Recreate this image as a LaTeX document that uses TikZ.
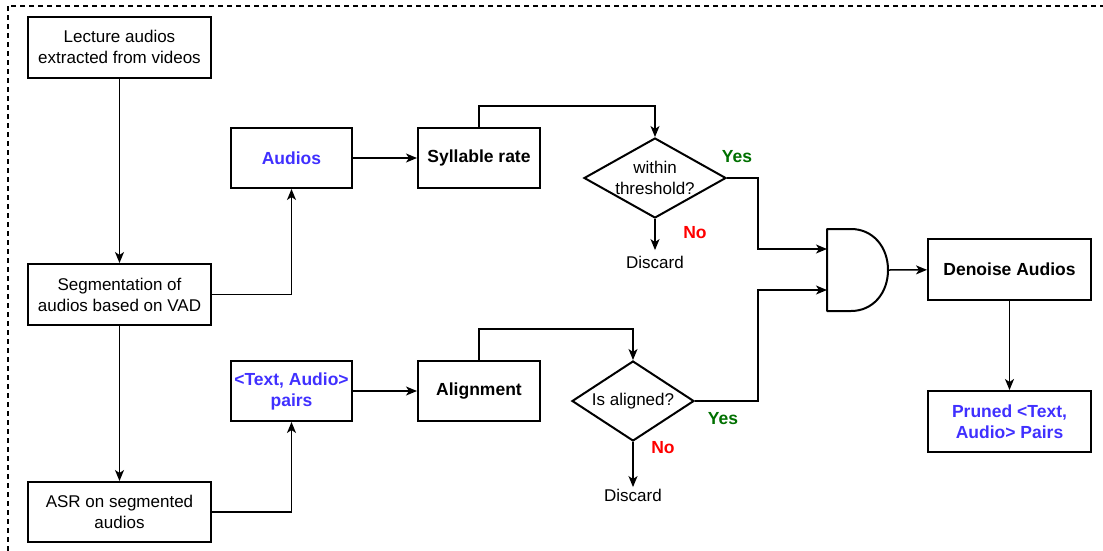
\documentclass[tikz,border=0pt]{standalone}
\usepackage{fontspec}
\setmainfont{Liberation Sans}
\usetikzlibrary{arrows.meta,shapes.geometric}

\definecolor{inkblue}{RGB}{64,48,255}
\definecolor{yesgreen}{RGB}{0,112,0}
\definecolor{nored}{RGB}{255,0,0}

\tikzset{
  txt/.style={font=\fontsize{17}{21}\selectfont, align=center},
  box/.style={txt, draw, line width=2pt, inner sep=0pt,
              minimum width=183pt, minimum height=61pt},
  midbox/.style={box, minimum width=121pt, minimum height=60pt},
  widebox/.style={box, minimum width=163pt, minimum height=61pt},
  blue text/.style={text=inkblue, font=\fontsize{17.5}{21}\selectfont\bfseries},
  bold text/.style={font=\fontsize{17.5}{21}\selectfont\bfseries},
  decision/.style={txt, draw, diamond, line width=2pt, aspect=1.775,
                   inner xsep=-2pt, inner ysep=0pt},
  outcome/.style={txt, inner sep=2pt},
  yes/.style={font=\fontsize{17.5}{20}\selectfont\bfseries, text=yesgreen},
  no/.style={font=\fontsize{17.5}{20}\selectfont\bfseries, text=nored},
  conn/.style={line width=1.5pt, -{Stealth[length=11pt,width=9pt,inset=3pt]}},
  gate/.style={line width=2pt, line join=round},
}

\begin{document}
\begin{tikzpicture}[x=1pt, y=-1pt]
  \useasboundingbox (0,0) rectangle (1103,550);

  % dashed frame, running off the right and bottom edges
  \begin{scope}
    \clip (0,0) rectangle (1103,550);
    \draw[line width=1.3pt, dash pattern=on 5pt off 4pt] (8,6) rectangle (1130,580);
  \end{scope}

  % left column
  \node[box] (lect) at (119.5,47) {Lecture audios\\extracted from videos};
  \node[box] (seg)  at (119.5,294.5) {Segmentation of\\audios based on VAD};
  \node[box, minimum height=60pt] (asr) at (119.5,512) {ASR on segmented\\audios};

  % middle boxes
  \node[midbox, blue text] (aud)   at (291.5,158) {Audios};
  \node[midbox, blue text] (pairs) at (291.5,391) {<Text, Audio>\\pairs};
  \node[midbox, bold text, minimum width=122pt] (syl)   at (479,158) {Syllable rate};
  \node[midbox, bold text, minimum width=122pt] (align) at (479,391) {Alignment};

  % decisions
  \node[decision, minimum width=142pt, minimum height=80pt] (d1) at (655,178) {within\\threshold?};
  \node[decision, minimum width=122pt, minimum height=80pt] (d2) at (633,401) {Is aligned?};
  \node[outcome] (disc1) at (655,262.5) {Discard};
  \node[outcome] (disc2) at (633,495.5) {Discard};

  % AND gate
  \draw[gate] (827,229) -- (851,229)
     .. controls (873,229) and (888,247) .. (888,270)
     .. controls (888,293) and (873,311) .. (851,311)
     -- (827,311) -- cycle;
  \coordinate (gin1) at (827,249);
  \coordinate (gin2) at (827,290);
  \coordinate (gout) at (888,270);

  % right column
  \node[widebox, bold text] (den) at (1009.5,269.5) {Denoise Audios};
  \node[widebox, blue text] (pruned) at (1009.5,421.5) {Pruned <Text,\\Audio> Pairs};

  % branch labels
  \node[yes] at (737,157) {Yes};
  \node[no]  at (695,233) {No};
  \node[yes] at (723,419) {Yes};
  \node[no]  at (663,448) {No};

  % connectors
  \draw[conn] (lect) -- (seg);
  \draw[conn] (seg) -- (asr);
  \draw[conn] (seg.east) -| (aud.south);
  \draw[conn] (asr.east) -| (pairs.south);
  \draw[conn] (aud) -- (syl);
  \draw[conn] (pairs) -- (align);
  \draw[conn] (syl.north) -- ++(0,-21) -| (d1.north);
  \draw[conn] (align.north) -- ++(0,-31) -| (d2.north);
  \draw[conn, shorten >=4pt] (d1.south) -- (disc1);
  \draw[conn] (d2.south) -- (disc2);
  \draw[conn] (d1.east) -- ++(31,0) |- (gin1);
  \draw[conn] (d2.east) -- ++(63,0) |- (gin2);
  \draw[conn] (gout) -- (den);
  \draw[conn] (den) -- (pruned);
\end{tikzpicture}
\end{document}
